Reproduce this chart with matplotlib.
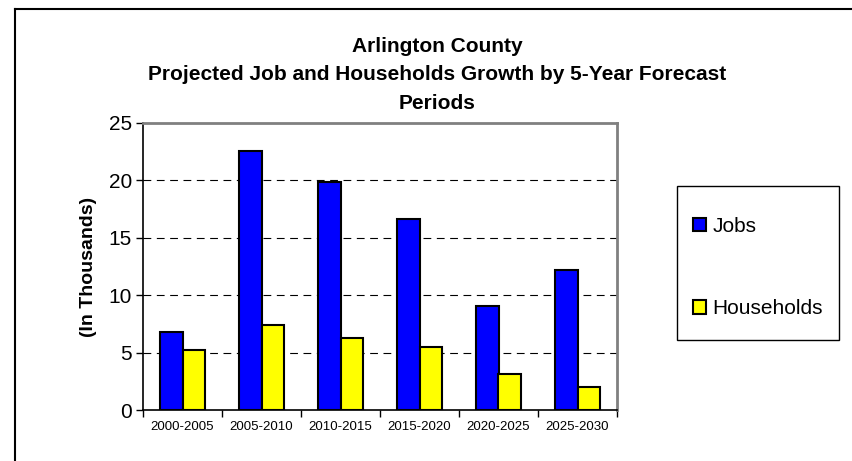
import numpy as np
import matplotlib.pyplot as plt
from matplotlib.lines import Line2D
from matplotlib.patches import Rectangle

plt.rcParams['font.family'] = ['Liberation Sans', 'DejaVu Sans']

# Data (in thousands)
periods = ['2000-2005', '2005-2010', '2010-2015', '2015-2020', '2020-2025', '2025-2030']
jobs = [6.8, 22.6, 19.9, 16.6, 9.1, 12.2]
households = [5.2, 7.4, 6.3, 5.5, 3.1, 2.0]

W, H = 853, 461
fig = plt.figure(figsize=(W / 100, H / 100), dpi=100)

# outer chart border (only top and left edges visible)
fig.add_artist(Line2D([15 / W, 15 / W], [0, 1 - 9 / H], color='black', lw=1.5, transform=fig.transFigure))
fig.add_artist(Line2D([15 / W, 1], [1 - 9 / H, 1 - 9 / H], color='black', lw=1.5, transform=fig.transFigure))

ax = fig.add_axes([143 / W, 1 - 410 / H, 474 / W, 287 / H])

x = np.arange(len(periods))
bw = 0.29
ax.bar(x - bw / 2, jobs, bw, color='#0000FF', edgecolor='black', linewidth=1.5, label='Jobs', zorder=3)
ax.bar(x + bw / 2, households, bw, color='#FFFF00', edgecolor='black', linewidth=1.5, label='Households', zorder=3)

ax.set_xlim(-0.5, len(periods) - 0.5)
ax.set_ylim(0, 25)
ax.set_yticks([0, 5, 10, 15, 20, 25])
ax.set_xticks(x)
ax.set_xticklabels(periods, fontsize=9.5)
ax.set_xticks(np.arange(-0.5, len(periods)), minor=True)
ax.tick_params(axis='x', which='major', length=0, pad=8)
ax.tick_params(axis='x', which='minor', length=5, direction='out', width=1)
ax.tick_params(axis='y', length=5, direction='out', width=1, labelsize=15, pad=3)

for v in [5, 10, 15, 20]:
    ax.axhline(v, color='black', lw=0.8, dashes=(7, 5), zorder=1)

ax.spines['left'].set_color('black')
ax.spines['bottom'].set_color('black')
ax.spines['left'].set_linewidth(1.2)
ax.spines['bottom'].set_linewidth(1.2)
for s in ['top', 'right']:
    ax.spines[s].set_color('#808080')
    ax.spines[s].set_linewidth(2)

ax.set_ylabel('(In Thousands)', fontsize=14, fontweight='bold', labelpad=8)

fig.text(437 / W, 1 - 75 / H,
         'Arlington County\nProjected Job and Households Growth by 5-Year Forecast\nPeriods',
         ha='center', va='center', fontsize=15, fontweight='bold', linespacing=1.65)

# legend box (Excel style: entries sit a bit above centre)
fig.add_artist(Rectangle((677 / W, 1 - 340 / H), 162 / W, 154 / H, transform=fig.transFigure,
                         facecolor='white', edgecolor='black', lw=1.0, zorder=0))
leg = ax.legend(loc='upper left', bbox_to_anchor=(693 / W, 1 - 217 / H),
                bbox_transform=fig.transFigure, borderaxespad=0, borderpad=0, fontsize=15,
                frameon=False, handlelength=0.62, handleheight=0.62, handletextpad=0.3,
                labelspacing=3.04)

fig.savefig('out.png', dpi=100)
